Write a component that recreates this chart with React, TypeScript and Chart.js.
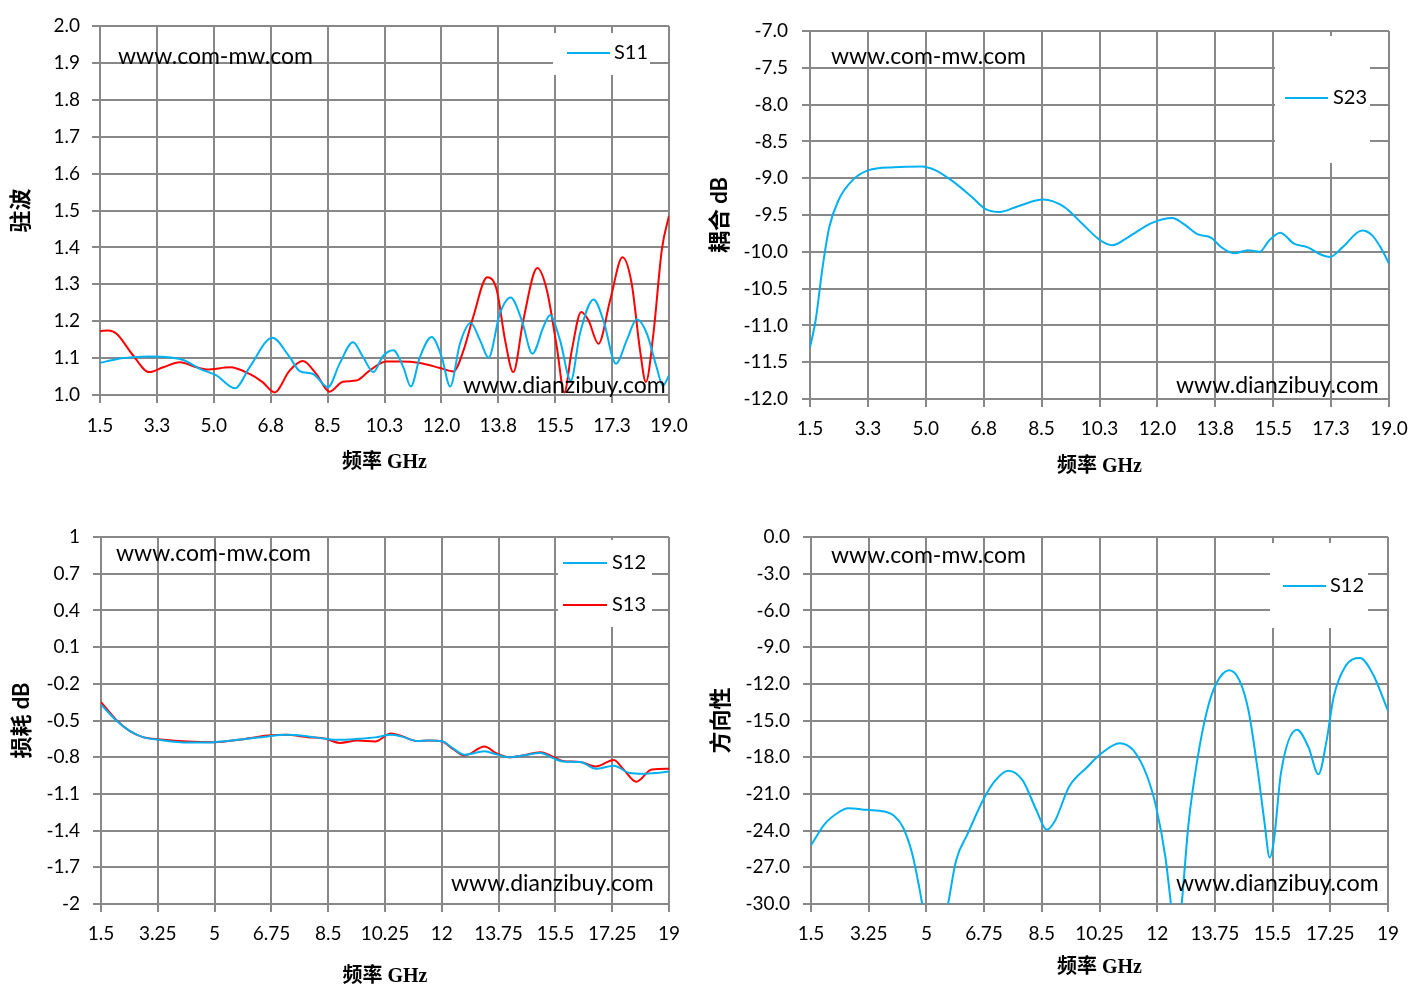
import React, { useEffect, useRef } from "react";
import { Chart, registerables } from "chart.js";

Chart.register(...registerables);

// shared frequency axis (GHz)
const xTickValues = [1.5, 3.25, 5, 6.75, 8.5, 10.25, 12, 13.75, 15.5, 17.25, 19];
const xLabelsTop = ["1.5", "3.3", "5.0", "6.8", "8.5", "10.3", "12.0", "13.8", "15.5", "17.3", "19.0"];
const xLabelsBottom = ["1.5", "3.25", "5", "6.75", "8.5", "10.25", "12", "13.75", "15.5", "17.25", "19"];

// y ticks per panel
const vswrTicks = [1.0, 1.1, 1.2, 1.3, 1.4, 1.5, 1.6, 1.7, 1.8, 1.9, 2.0];
const vswrLabels = ["1.0", "1.1", "1.2", "1.3", "1.4", "1.5", "1.6", "1.7", "1.8", "1.9", "2.0"];
const couplingTicks = [-12, -11.5, -11, -10.5, -10, -9.5, -9, -8.5, -8, -7.5, -7];
const couplingLabels = ["-12.0", "-11.5", "-11.0", "-10.5", "-10.0", "-9.5", "-9.0", "-8.5", "-8.0", "-7.5", "-7.0"];
const lossTicks = [-2, -1.7, -1.4, -1.1, -0.8, -0.5, -0.2, 0.1, 0.4, 0.7, 1];
const lossLabels = ["-2", "-1.7", "-1.4", "-1.1", "-0.8", "-0.5", "-0.2", "0.1", "0.4", "0.7", "1"];
const dirTicks = [-30, -27, -24, -21, -18, -15, -12, -9, -6, -3, 0];
const dirLabels = ["-30.0", "-27.0", "-24.0", "-21.0", "-18.0", "-15.0", "-12.0", "-9.0", "-6.0", "-3.0", "0.0"];

// VSWR, S11 (blue)
const s11Freq = [1.5, 2.0, 2.5, 3.0, 3.5, 4.06, 4.57, 5.08, 5.65, 6.1, 6.8, 7.33, 7.64, 8.05, 8.51, 8.87, 9.28, 9.59, 9.91, 10.2, 10.52, 10.83, 11.06, 11.34, 11.7, 12.01, 12.27, 12.57, 12.9, 13.19, 13.45, 13.8, 14.13, 14.47, 14.8, 15.14, 15.34, 15.65, 15.98, 16.26, 16.68, 16.98, 17.37, 17.7, 18.01, 18.32, 18.62, 18.81, 19.0];
const s11Vswr = [1.087, 1.097, 1.102, 1.104, 1.103, 1.095, 1.071, 1.053, 1.018, 1.075, 1.155, 1.103, 1.065, 1.057, 1.021, 1.085, 1.143, 1.103, 1.062, 1.105, 1.121, 1.075, 1.023, 1.103, 1.157, 1.103, 1.023, 1.139, 1.195, 1.148, 1.101, 1.221, 1.264, 1.203, 1.112, 1.185, 1.216, 1.148, 1.039, 1.166, 1.259, 1.203, 1.085, 1.148, 1.205, 1.166, 1.075, 1.025, 1.053];

// VSWR, second port (red, not in legend)
const s22Freq = [1.5, 1.76, 2.01, 2.52, 3.01, 3.44, 3.96, 4.47, 4.78, 5.5, 6.1, 6.5, 6.87, 7.33, 7.74, 8.15, 8.56, 8.97, 9.38, 9.79, 10.3, 10.73, 11.34, 11.96, 12.37, 12.68, 12.98, 13.41, 13.7, 13.96, 14.21, 14.52, 14.95, 15.24, 15.55, 15.78, 16.01, 16.3, 16.52, 16.83, 17.19, 17.57, 17.85, 18.11, 18.29, 18.52, 18.78, 19.0];
const s22Vswr = [1.173, 1.175, 1.166, 1.107, 1.062, 1.075, 1.089, 1.075, 1.069, 1.075, 1.057, 1.035, 1.007, 1.066, 1.092, 1.057, 1.009, 1.036, 1.039, 1.066, 1.091, 1.091, 1.087, 1.073, 1.064, 1.121, 1.212, 1.319, 1.285, 1.148, 1.062, 1.203, 1.344, 1.285, 1.13, 1.007, 1.121, 1.225, 1.203, 1.139, 1.257, 1.373, 1.303, 1.121, 1.035, 1.166, 1.394, 1.486];

// coupling S23 (dB)
const s23Freq = [1.5, 1.67, 1.88, 2.08, 2.36, 2.78, 3.27, 4.03, 4.87, 5.28, 5.84, 6.4, 6.81, 7.23, 7.79, 8.55, 9.18, 9.73, 10.29, 10.64, 11.12, 11.82, 12.45, 12.79, 13.21, 13.63, 13.91, 14.32, 14.74, 15.09, 15.37, 15.71, 16.13, 16.55, 16.9, 17.22, 17.59, 18.19, 18.5, 18.77, 19.0];
const s23Coupling = [-11.3, -10.93, -10.21, -9.67, -9.3, -9.03, -8.89, -8.85, -8.84, -8.89, -9.05, -9.26, -9.42, -9.46, -9.38, -9.29, -9.39, -9.62, -9.85, -9.91, -9.8, -9.61, -9.54, -9.62, -9.76, -9.81, -9.93, -10.02, -9.98, -10.0, -9.85, -9.74, -9.89, -9.94, -10.03, -10.07, -9.94, -9.71, -9.78, -9.96, -10.16];

// insertion loss (dB)
const s12LossFreq = [1.5, 1.97, 2.38, 2.79, 3.34, 4.17, 4.99, 5.82, 6.64, 7.19, 7.88, 8.43, 8.85, 9.4, 9.95, 10.43, 10.77, 11.25, 11.6, 12.01, 12.35, 12.7, 13.32, 13.66, 14.07, 14.49, 15.04, 15.45, 15.72, 16.27, 16.75, 17.3, 17.79, 18.2, 18.6, 19.0];
const s12Loss = [-0.37, -0.5, -0.585, -0.636, -0.66, -0.68, -0.677, -0.655, -0.63, -0.617, -0.63, -0.65, -0.658, -0.65, -0.638, -0.617, -0.632, -0.668, -0.664, -0.67, -0.728, -0.78, -0.752, -0.775, -0.8, -0.786, -0.765, -0.81, -0.835, -0.84, -0.895, -0.87, -0.93, -0.936, -0.93, -0.917];
const s13LossFreq = [1.5, 1.97, 2.38, 2.79, 3.34, 4.17, 4.99, 5.82, 6.64, 7.19, 7.88, 8.43, 8.85, 9.4, 9.95, 10.43, 10.77, 11.25, 11.6, 12.01, 12.35, 12.7, 13.32, 13.66, 14.07, 14.49, 15.04, 15.45, 15.72, 16.27, 16.75, 17.3, 17.6, 17.99, 18.47, 19.0];
const s13Loss = [-0.35, -0.495, -0.585, -0.636, -0.655, -0.672, -0.677, -0.655, -0.623, -0.617, -0.636, -0.65, -0.683, -0.664, -0.672, -0.607, -0.628, -0.668, -0.664, -0.672, -0.735, -0.786, -0.713, -0.765, -0.8, -0.786, -0.759, -0.8, -0.83, -0.84, -0.876, -0.822, -0.9, -1.0, -0.9, -0.895];

// directivity (dB)
const s12DirFreq = [1.5, 1.92, 2.34, 2.62, 3.18, 3.73, 4.01, 4.29, 4.57, 4.78, 4.88, 5.25, 5.65, 5.9, 6.25, 6.74, 7.09, 7.48, 7.92, 8.34, 8.65, 8.9, 9.32, 9.88, 10.3, 10.86, 11.28, 11.7, 11.97, 12.25, 12.42, 12.58, 12.74, 12.95, 13.23, 13.51, 13.79, 14.18, 14.49, 14.77, 15.05, 15.26, 15.41, 15.54, 15.75, 16.24, 16.59, 16.89, 17.14, 17.35, 17.7, 18.15, 18.54, 19.0];
const s12Directivity = [-25.2, -23.45, -22.5, -22.17, -22.3, -22.44, -22.77, -23.73, -25.9, -28.6, -30.1, -35, -30.1, -26.45, -24.27, -21.4, -19.9, -19.1, -19.9, -22.36, -23.94, -23.2, -20.45, -18.8, -17.7, -16.85, -17.45, -19.6, -22.1, -26.2, -30.1, -34, -30.1, -23.45, -18, -14.2, -12.0, -10.9, -11.7, -14.2, -19.1, -23.45, -26.2, -24.8, -19.36, -15.76, -17.2, -19.4, -16.6, -13.1, -10.6, -9.9, -11.2, -14.2];

const BLUE = "#00B0F0";
const RED = "#FF0000";
const GRID = "#888888";
const TICK_FONT = "Lato, 'Noto Sans', sans-serif";
const TITLE_FONT = "'Liberation Serif', 'Noto Sans CJK SC', serif";

interface Series {
  label: string;
  freq: number[];
  values: number[];
  color: string;
  inLegend: boolean;
}

interface PanelSpec {
  key: string;
  left: number;
  top: number;
  width: number;
  height: number;
  area: { left: number; top: number; right: number; bottom: number };
  yMin: number;
  yMax: number;
  yTicks: number[];
  yLabels: string[];
  xLabels: string[];
  yTitle: string;
  xTitle: string;
  yTitleFont: string;
  yTickPad: number;
  xTickPad: number;
  yTitlePad: number;
  xTitlePad: number;
  series: Series[];
  legendBox: { x: number; y: number; w: number; h: number };
  legendRows: number[];
  legendLineX: [number, number];
  legendTextX: number;
  marks: { text: string; x: number; y: number }[];
}

const panels: PanelSpec[] = [
  {
    key: "vswr",
    left: 0,
    top: 0,
    width: 700,
    height: 490,
    area: { left: 100, top: 26, right: 669, bottom: 395 },
    yMin: 1,
    yMax: 2,
    yTicks: vswrTicks,
    yLabels: vswrLabels,
    xLabels: xLabelsTop,
    yTitle: "驻波",
    xTitle: "频率 GHz",
    yTitleFont: TITLE_FONT,
    yTickPad: 12,
    xTickPad: 11,
    yTitlePad: 9,
    xTitlePad: 15,
    series: [
      { label: "S11", freq: s11Freq, values: s11Vswr, color: BLUE, inLegend: true },
      { label: "S22", freq: s22Freq, values: s22Vswr, color: RED, inLegend: false },
    ],
    legendBox: { x: 553, y: 33, w: 97, h: 42 },
    legendRows: [53],
    legendLineX: [567, 610],
    legendTextX: 614,
    marks: [
      { text: "www.com-mw.com", x: 118, y: 57 },
      { text: "www.dianzibuy.com", x: 463, y: 386 },
    ],
  },
  {
    key: "coupling",
    left: 700,
    top: 0,
    width: 722,
    height: 490,
    area: { left: 110, top: 31, right: 689, bottom: 399 },
    yMin: -12,
    yMax: -7,
    yTicks: couplingTicks,
    yLabels: couplingLabels,
    xLabels: xLabelsTop,
    yTitle: "耦合 dB",
    xTitle: "频率 GHz",
    yTitleFont: "Lato, 'Noto Sans CJK SC', sans-serif",
    yTickPad: 14,
    xTickPad: 10,
    yTitlePad: 7,
    xTitlePad: 11,
    series: [{ label: "S23", freq: s23Freq, values: s23Coupling, color: BLUE, inLegend: true }],
    legendBox: { x: 575, y: 36, w: 95, h: 127 },
    legendRows: [98],
    legendLineX: [585, 628],
    legendTextX: 633,
    marks: [
      { text: "www.com-mw.com", x: 131, y: 57 },
      { text: "www.dianzibuy.com", x: 476, y: 386 },
    ],
  },
  {
    key: "loss",
    left: 0,
    top: 490,
    width: 700,
    height: 513,
    area: { left: 101, top: 47, right: 669, bottom: 414 },
    yMin: -2,
    yMax: 1,
    yTicks: lossTicks,
    yLabels: lossLabels,
    xLabels: xLabelsBottom,
    yTitle: "损耗 dB",
    xTitle: "频率 GHz",
    yTitleFont: "Lato, 'Noto Sans CJK SC', sans-serif",
    yTickPad: 13,
    xTickPad: 10,
    yTitlePad: 9,
    xTitlePad: 14,
    series: [
      { label: "S12", freq: s12LossFreq, values: s12Loss, color: BLUE, inLegend: true },
      { label: "S13", freq: s13LossFreq, values: s13Loss, color: RED, inLegend: true },
    ],
    legendBox: { x: 558, y: 50, w: 94, h: 87 },
    legendRows: [73, 115],
    legendLineX: [563, 607],
    legendTextX: 612,
    marks: [
      { text: "www.com-mw.com", x: 116, y: 64 },
      { text: "www.dianzibuy.com", x: 451, y: 394 },
    ],
  },
  {
    key: "directivity",
    left: 700,
    top: 490,
    width: 722,
    height: 513,
    area: { left: 111, top: 47, right: 688, bottom: 414 },
    yMin: -30,
    yMax: 0,
    yTicks: dirTicks,
    yLabels: dirLabels,
    xLabels: xLabelsBottom,
    yTitle: "方向性",
    xTitle: "频率 GHz",
    yTitleFont: TITLE_FONT,
    yTickPad: 13,
    xTickPad: 10,
    yTitlePad: 9,
    xTitlePad: 23,
    series: [{ label: "S12", freq: s12DirFreq, values: s12Directivity, color: BLUE, inLegend: true }],
    legendBox: { x: 570, y: 53, w: 98, h: 85 },
    legendRows: [96],
    legendLineX: [583, 626],
    legendTextX: 630,
    marks: [
      { text: "www.com-mw.com", x: 131, y: 66 },
      { text: "www.dianzibuy.com", x: 476, y: 394 },
    ],
  },
];

// legend box and watermark texts drawn on top of the plot
const overlayPlugin = (spec: PanelSpec) => ({
  id: "overlay-" + spec.key,
  afterDraw(chart: Chart) {
    const ctx = chart.ctx;
    ctx.save();
    const b = spec.legendBox;
    ctx.fillStyle = "#ffffff";
    ctx.fillRect(b.x, b.y, b.w, b.h);
    const entries = spec.series.filter((s) => s.inLegend);
    entries.forEach((s, i) => {
      const y = spec.legendRows[i];
      ctx.strokeStyle = s.color;
      ctx.lineWidth = 2;
      ctx.beginPath();
      ctx.moveTo(spec.legendLineX[0], y);
      ctx.lineTo(spec.legendLineX[1], y);
      ctx.stroke();
      ctx.fillStyle = "#000";
      ctx.font = "20px " + TICK_FONT;
      ctx.textAlign = "left";
      ctx.textBaseline = "middle";
      ctx.fillText(s.label, spec.legendTextX, y);
    });
    ctx.fillStyle = "#000";
    ctx.font = "23px " + TICK_FONT;
    ctx.textAlign = "left";
    ctx.textBaseline = "middle";
    spec.marks.forEach((m) => ctx.fillText(m.text, m.x, m.y));
    ctx.restore();
  },
});

const Panel: React.FC<{ spec: PanelSpec }> = ({ spec }) => {
  const canvasRef = useRef<HTMLCanvasElement | null>(null);

  useEffect(() => {
    if (!canvasRef.current) return;
    const chart = new Chart(canvasRef.current, {
      type: "line",
      data: {
        datasets: spec.series.map((s) => ({
          label: s.label,
          data: s.freq.map((f, i) => ({ x: f, y: s.values[i] })),
          borderColor: s.color,
          backgroundColor: s.color,
          borderWidth: 2,
          pointRadius: 0,
          fill: false,
          cubicInterpolationMode: "monotone" as const,
        })),
      },
      options: {
        animation: false,
        responsive: true,
        maintainAspectRatio: false,
        events: [],
        layout: {
          padding: { left: 0, top: spec.area.top, right: spec.width - spec.area.right, bottom: 0 },
        },
        plugins: {
          legend: { display: false },
          tooltip: { enabled: false },
        },
        scales: {
          x: {
            type: "linear",
            min: 1.5,
            max: 19,
            afterBuildTicks: (axis: any) => {
              axis.ticks = xTickValues.map((v) => ({ value: v }));
            },
            afterFit: (axis: any) => {
              axis.height = spec.height - spec.area.bottom;
            },
            grid: { color: GRID, lineWidth: 2, tickLength: 8 },
            border: { color: GRID, width: 2 },
            ticks: {
              autoSkip: false,
              maxRotation: 0,
              padding: spec.xTickPad,
              color: "#000",
              font: { family: TICK_FONT, size: 19 },
              callback: (_v: any, i: number) => spec.xLabels[i],
            },
            title: {
              display: true,
              text: spec.xTitle,
              color: "#000",
              font: { family: TITLE_FONT, size: 20, weight: "bold" },
              padding: { top: 0, bottom: spec.xTitlePad },
            },
          },
          y: {
            type: "linear",
            min: spec.yMin,
            max: spec.yMax,
            afterBuildTicks: (axis: any) => {
              axis.ticks = spec.yTicks.map((v) => ({ value: v }));
            },
            afterFit: (axis: any) => {
              axis.width = spec.area.left;
            },
            grid: { color: GRID, lineWidth: 2, tickLength: 8 },
            border: { color: GRID, width: 2 },
            ticks: {
              padding: spec.yTickPad,
              color: "#000",
              font: { family: TICK_FONT, size: 19 },
              callback: (_v: any, i: number) => spec.yLabels[i],
            },
            title: {
              display: true,
              text: spec.yTitle,
              color: "#000",
              font: { family: spec.yTitleFont, size: 22, weight: "bold" },
              padding: { top: spec.yTitlePad, bottom: 0 },
            },
          },
        },
      },
      plugins: [overlayPlugin(spec)],
    });
    return () => chart.destroy();
  }, [spec]);

  return (
    <div
      style={{
        position: "absolute",
        left: spec.left,
        top: spec.top,
        width: spec.width,
        height: spec.height,
      }}
    >
      <canvas ref={canvasRef}></canvas>
    </div>
  );
};

export default function App() {
  return (
    <div
      style={{
        position: "absolute",
        left: 0,
        top: 0,
        width: 1422,
        height: 1003,
        background: "#ffffff",
      }}
    >
      {panels.map((p) => (
        <Panel key={p.key} spec={p} />
      ))}
    </div>
  );
}
